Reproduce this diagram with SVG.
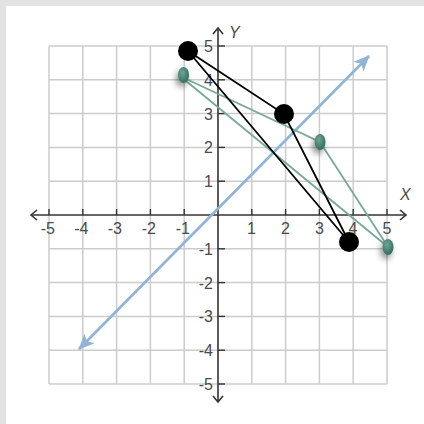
<svg xmlns="http://www.w3.org/2000/svg" width="424" height="424" viewBox="0 0 424 424">
<defs>
<style>
.grid line{stroke:#cccccc;stroke-width:1.5}
.axis{stroke:#333333;stroke-width:1.6;fill:none}
.tick{stroke:#333333;stroke-width:1.4}
.lbl{font-family:"Liberation Sans",Arial,sans-serif;font-size:16px;fill:#4a4a4a}
.xl{text-anchor:end}
.yl{text-anchor:end}
.blk{stroke:#000000;stroke-width:1.8;fill:none}
.grn{stroke:#78a89a;stroke-width:1.8;fill:none}
.blue{stroke:#8fb4d6;stroke-width:2.6}
</style>
<marker id="ab" viewBox="0 0 16 14" refX="15" refY="7" markerWidth="16" markerHeight="14" markerUnits="userSpaceOnUse" orient="auto-start-reverse">
<path d="M0,0 L16,7 L0,14 L4,7 Z" fill="#8fb4d6"/>
</marker>
<radialGradient id="eg" cx="0.4" cy="0.35" r="0.7">
<stop offset="0" stop-color="#6fa596"/>
<stop offset="1" stop-color="#2e6b5a"/>
</radialGradient>
<filter id="sh" x="-100%" y="-100%" width="300%" height="300%">
<feDropShadow dx="-2" dy="4" stdDeviation="3" flood-color="#000" flood-opacity="0.45"/>
</filter>
</defs>
<rect x="0" y="0" width="424" height="424" fill="#e2e2e2"/>
<rect x="6" y="6" width="418" height="418" fill="#ffffff"/>
<g class="grid">
<line x1="49" y1="46" x2="49" y2="384"/>
<line x1="82.8" y1="46" x2="82.8" y2="384"/>
<line x1="116.6" y1="46" x2="116.6" y2="384"/>
<line x1="150.4" y1="46" x2="150.4" y2="384"/>
<line x1="184.2" y1="46" x2="184.2" y2="384"/>
<line x1="251.8" y1="46" x2="251.8" y2="384"/>
<line x1="285.6" y1="46" x2="285.6" y2="384"/>
<line x1="319.4" y1="46" x2="319.4" y2="384"/>
<line x1="353.2" y1="46" x2="353.2" y2="384"/>
<line x1="387" y1="46" x2="387" y2="384"/>
<line x1="49" y1="46" x2="387" y2="46"/>
<line x1="49" y1="79.8" x2="387" y2="79.8"/>
<line x1="49" y1="113.6" x2="387" y2="113.6"/>
<line x1="49" y1="147.4" x2="387" y2="147.4"/>
<line x1="49" y1="181.2" x2="387" y2="181.2"/>
<line x1="49" y1="248.8" x2="387" y2="248.8"/>
<line x1="49" y1="282.6" x2="387" y2="282.6"/>
<line x1="49" y1="316.4" x2="387" y2="316.4"/>
<line x1="49" y1="350.2" x2="387" y2="350.2"/>
<line x1="49" y1="384" x2="387" y2="384"/>
</g>
<g id="axes">
<line class="axis" x1="31" y1="215" x2="406" y2="215"/>
<line class="axis" x1="218" y1="28" x2="218" y2="402"/>
<path class="axis" d="M37,210 L31,215 L37,220"/>
<path class="axis" d="M400,210 L406,215 L400,220"/>
<path class="axis" d="M213,34 L218,28 L223,34"/>
<path class="axis" d="M213,396 L218,402 L223,396"/>
<g>
<line class="tick" x1="49" y1="209" x2="49" y2="215"/>
<line class="tick" x1="82.8" y1="209" x2="82.8" y2="215"/>
<line class="tick" x1="116.6" y1="209" x2="116.6" y2="215"/>
<line class="tick" x1="150.4" y1="209" x2="150.4" y2="215"/>
<line class="tick" x1="184.2" y1="209" x2="184.2" y2="215"/>
<line class="tick" x1="251.8" y1="209" x2="251.8" y2="215"/>
<line class="tick" x1="285.6" y1="209" x2="285.6" y2="215"/>
<line class="tick" x1="319.4" y1="209" x2="319.4" y2="215"/>
<line class="tick" x1="353.2" y1="209" x2="353.2" y2="215"/>
<line class="tick" x1="387" y1="209" x2="387" y2="215"/>
<line class="tick" x1="218" y1="46" x2="225" y2="46"/>
<line class="tick" x1="218" y1="79.8" x2="225" y2="79.8"/>
<line class="tick" x1="218" y1="113.6" x2="225" y2="113.6"/>
<line class="tick" x1="218" y1="147.4" x2="225" y2="147.4"/>
<line class="tick" x1="218" y1="181.2" x2="225" y2="181.2"/>
<line class="tick" x1="218" y1="248.8" x2="225" y2="248.8"/>
<line class="tick" x1="218" y1="282.6" x2="225" y2="282.6"/>
<line class="tick" x1="218" y1="316.4" x2="225" y2="316.4"/>
<line class="tick" x1="218" y1="350.2" x2="225" y2="350.2"/>
<line class="tick" x1="218" y1="384" x2="225" y2="384"/>
</g>
<g class="lbl xl">
<text x="55" y="234">-5</text>
<text x="88.5" y="234">-4</text>
<text x="122" y="234">-3</text>
<text x="156" y="234">-2</text>
<text x="190" y="234">-1</text>
<text x="256" y="234">1</text>
<text x="290" y="234">2</text>
<text x="324" y="234">3</text>
<text x="357.5" y="234">4</text>
<text x="391.5" y="234">5</text>
</g>
<g class="lbl yl">
<text x="213" y="52">5</text>
<text x="213" y="86">4</text>
<text x="213" y="119.5">3</text>
<text x="213" y="153">2</text>
<text x="213" y="187">1</text>
<text x="213" y="255">-1</text>
<text x="213" y="288.5">-2</text>
<text x="213" y="322">-3</text>
<text x="213" y="356">-4</text>
<text x="213" y="390">-5</text>
</g>
<text class="lbl" x="229" y="38" font-style="italic" font-size="18">Y</text>
<text class="lbl" x="400" y="200" font-style="italic" font-size="18">X</text>
</g>
<g id="connectors">
<line class="blue" x1="79" y1="349" x2="369" y2="56" marker-start="url(#ab)" marker-end="url(#ab)"/>
<path class="grn" d="M180,76 L320,142 L388,247 Z"/>
<path class="blk" d="M188,51 L284,114 L349,242 Z"/>
</g>
<g id="green-points">
<ellipse cx="183.5" cy="75" rx="5.5" ry="8" fill="url(#eg)" filter="url(#sh)"/>
<ellipse cx="320" cy="142" rx="5.5" ry="8" fill="url(#eg)" filter="url(#sh)"/>
<ellipse cx="388" cy="247" rx="5.5" ry="8" fill="url(#eg)" filter="url(#sh)"/>
</g>
<g id="black-points">
<circle cx="188" cy="51" r="10" fill="#000"/>
<circle cx="284" cy="114" r="10" fill="#000"/>
<circle cx="349" cy="242" r="10" fill="#000"/>
</g>
</svg>
